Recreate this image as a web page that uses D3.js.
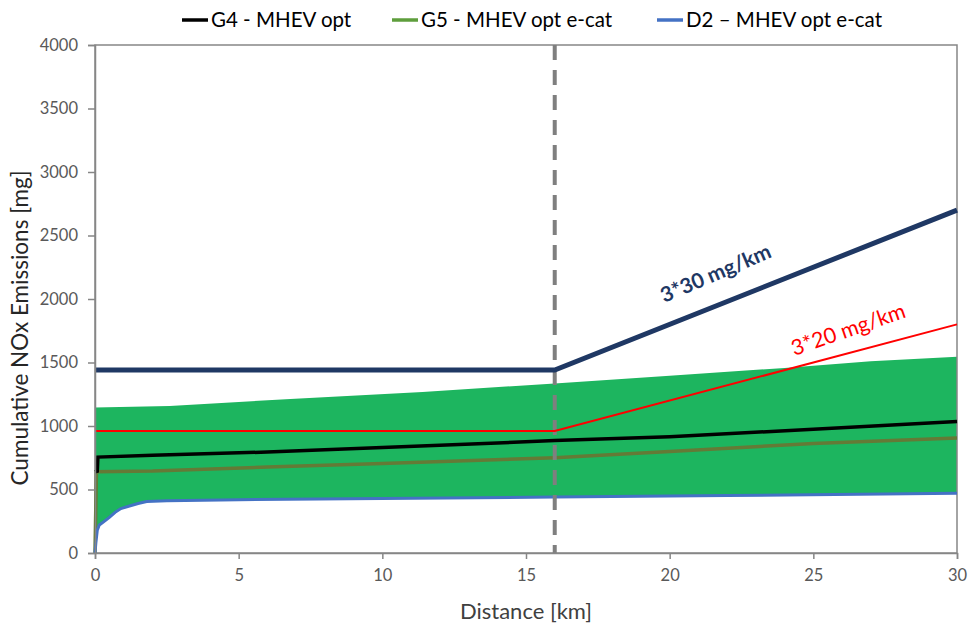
<!DOCTYPE html>
<html><head><meta charset="utf-8">
<script src="https://cdn.jsdelivr.net/npm/d3@7"></script>
<style>body{margin:0;background:#fff;}svg{display:block;font-family:Lato,"Open Sans",sans-serif;}</style>
</head><body><svg id="c" width="970" height="625"></svg>
<script>
// ---- data ----
const xTicks = [0, 5, 10, 15, 20, 25, 30];
const yTicks = [0, 500, 1000, 1500, 2000, 2500, 3000, 3500, 4000];
const seriesNames = ["G4 - MHEV opt", "G5 - MHEV opt e-cat", "D2 \u2013 MHEV opt e-cat"];
const g4X = [0, 0.08, 0.1, 2, 6, 10, 16, 20, 25, 30];
const g4Y = [640, 645, 755, 770, 795, 830, 885, 915, 975, 1035];
const g5X = [0, 0.05, 2, 6, 10, 16, 20, 25, 30];
const g5Y = [0, 640, 645, 677, 705, 750, 800, 862, 905];
const d2X = [0, 0.03, 0.08, 0.15, 0.3, 0.5, 0.7, 0.9, 1.2, 1.5, 1.8, 2.5, 5, 10, 16, 22, 30];
const d2Y = [0, 80, 180, 220, 245, 280, 320, 350, 370, 390, 405, 412, 420, 430, 440, 452, 470];
const bandX = [0, 2.6, 6.8, 11.4, 16, 20, 24, 27, 30];
const bandTop = [1145, 1157, 1213, 1268, 1335, 1395, 1457, 1510, 1545];
const limit30X = [0, 16, 30];
const limit30Y = [1440, 1440, 2700];
const limit20X = [0, 16, 30];
const limit20Y = [960, 960, 1800];
const splitKm = 16;
const labels = ["3*30 mg/km", "3*20 mg/km"];

// ---- layout ----
const svg = d3.select("#c");
const L = 95, R = 957, T = 45, B = 553;
const x = d3.scaleLinear().domain([0, 30]).range([L, R]);
const y = d3.scaleLinear().domain([0, 4000]).range([B, T]);
const axisCol = "#868686", textCol = "#595959";
const col = {g4: "#000000", g5: "#647a36", g5leg: "#5e9e3c", d2: "#4472c4", navy: "#1f3864", red: "#ff0000", band: "#1db55f"};

const zip = (xs, ys) => xs.map((v, i) => [v, ys[i]]);
const line = d3.line().x(d => x(d[0])).y(d => y(d[1]));

// band polygon: top edge forward, D2 edge backward
const bandPts = zip(bandX, bandTop).concat(zip(d2X, d2Y).reverse());
svg.append("path").attr("d", line(bandPts) + "Z").attr("fill", col.band);

// frame
svg.append("rect").attr("x", L).attr("y", T).attr("width", R - L).attr("height", B - T)
  .attr("fill", "none").attr("stroke", axisCol).attr("stroke-width", 1.5);

// series
svg.append("path").attr("d", line(zip(g5X, g5Y))).attr("fill", "none").attr("stroke", col.g5).attr("stroke-width", 3.5);
svg.append("path").attr("d", line(zip(g4X, g4Y))).attr("fill", "none").attr("stroke", col.g4).attr("stroke-width", 3.5);
svg.append("path").attr("d", line(zip(d2X, d2Y))).attr("fill", "none").attr("stroke", col.d2).attr("stroke-width", 3);

// dashed split
svg.append("line").attr("x1", x(splitKm)).attr("x2", x(splitKm)).attr("y1", y(4000)).attr("y2", y(0))
  .attr("stroke", "#7f7f7f").attr("stroke-width", 4).attr("stroke-dasharray", "15,10");

// limits
svg.append("path").attr("d", line(zip(limit20X, limit20Y))).attr("fill", "none").attr("stroke", col.red).attr("stroke-width", 2);
svg.append("path").attr("d", line(zip(limit30X, limit30Y))).attr("fill", "none").attr("stroke", col.navy).attr("stroke-width", 5);

// axes
const ax = svg.append("g").attr("transform", `translate(0,${B})`)
  .call(d3.axisBottom(x).tickValues(xTicks).tickFormat(d3.format("d")).tickSize(6).tickPadding(10));
const ay = svg.append("g").attr("transform", `translate(${L},0)`)
  .call(d3.axisLeft(y).tickValues(yTicks).tickFormat(d3.format("d")).tickSize(7).tickPadding(10));
[ax, ay].forEach(g => {
  g.selectAll("path,line").attr("stroke", axisCol).attr("stroke-width", 1.5);
  g.selectAll("text").attr("fill", textCol).style("font-size", "16.5px").style("font-family", "Lato, sans-serif");
});

// titles
svg.append("text").attr("x", x(15)).attr("y", 619).attr("text-anchor", "middle")
  .attr("fill", "#404040").style("font-size", "22px").text("Distance [km]");
svg.append("text").attr("transform", "translate(28,328) rotate(-90)").attr("text-anchor", "middle")
  .attr("fill", "#262626").style("font-size", "22.5px").text("Cumulative NOx Emissions [mg]");

// annotations
svg.append("text").attr("transform", `translate(${x(21.7)},${y(2150)}) rotate(-23)`).attr("text-anchor", "middle")
  .attr("fill", col.navy).style("font-size", "21px").style("font-weight", "bold").text(labels[0]);
svg.append("text").attr("transform", `translate(${x(26.3)},${y(1705)}) rotate(-19)`).attr("text-anchor", "middle")
  .attr("fill", col.red).style("font-size", "21.5px").text(labels[1]);

// legend
const legX = [182, 392, 657];
const legCols = [col.g4, col.g5leg, col.d2];
seriesNames.forEach((n, i) => {
  svg.append("line").attr("x1", legX[i]).attr("x2", legX[i] + 26).attr("y1", 20).attr("y2", 20)
    .attr("stroke", legCols[i]).attr("stroke-width", 3.5);
  svg.append("text").attr("x", legX[i] + 29).attr("y", 27).attr("fill", "#000")
    .style("font-size", "20.5px").text(n);
});
</script></body></html>
